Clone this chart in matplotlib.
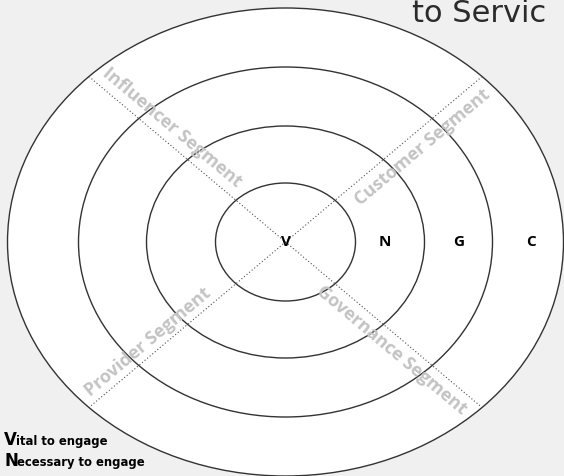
import numpy as np
import matplotlib.pyplot as plt
from matplotlib.patches import Ellipse

# rings, inner to outer
rings = ["V", "N", "G", "C"]
ring_w = [70, 139, 207, 278]      # half widths (px)
ring_h = [59, 116, 175, 234]      # half heights (px)
ring_label_x = [286, 385, 459, 531]

segments = ["Influencer Segment", "Customer Segment", "Provider Segment", "Governance Segment"]
seg_xy = [(172, 128), (423, 147), (148, 342), (392, 350)]
seg_rot = [-40, 40, 40, -40]

legend = [("V", "ital to engage"), ("N", "ecessary to engage")]

cx, cy = 285.5, 242

fig = plt.figure(figsize=(5.64, 4.76), dpi=100, facecolor="#f0f0f0")
ax = fig.add_axes([0, 0, 1, 1])
ax.set_xlim(0, 564)
ax.set_ylim(476, 0)
ax.set_facecolor("#f0f0f0")
ax.axis("off")

# ellipses, outer first so the fill is white
for i in range(len(rings) - 1, -1, -1):
    e = Ellipse((cx, cy), 2 * ring_w[i], 2 * ring_h[i], facecolor="white" if i == len(rings) - 1 else "none",
                edgecolor="#333333", lw=1.0, zorder=2)
    ax.add_patch(e)

# dotted diagonals between the outer ring at 45 deg
a, b = ring_w[-1], ring_h[-1]
for t in [np.pi / 4, 3 * np.pi / 4]:
    x0, y0 = cx + a * np.cos(t), cy - b * np.sin(t)
    x1, y1 = cx - a * np.cos(t), cy + b * np.sin(t)
    ax.plot([x0, x1], [y0, y1], color="#505050", lw=0.8, ls=(0, (1, 2)), zorder=3)

for name, (x, y), r in zip(segments, seg_xy, seg_rot):
    ax.text(x, y, name, rotation=r, rotation_mode="anchor", ha="center", va="center",
            fontsize=13, fontweight="bold", color="#c3c3c3", family="Open Sans", zorder=4)

for lab, x in zip(rings, ring_label_x):
    ax.text(x, cy, lab, ha="center", va="center", fontsize=11, fontweight="bold",
            color="black", family="Open Sans", zorder=5)

# title, cut off at the right edge like the original slide
ax.text(412, 22, "to Servic", ha="left", va="baseline", fontsize=22, color="#2b2b2b",
        family="DejaVu Sans")

# legend bottom left
for k, (big, rest) in enumerate(legend):
    y = 445 + k * 21
    ax.text(4, y, big, ha="left", va="baseline", fontsize=12, fontweight="bold", family="DejaVu Sans")
    ax.text(16 if big == "V" else 17, y, rest, ha="left", va="baseline", fontsize=9.3,
            fontweight="bold", family="DejaVu Sans", stretch="condensed")

fig.savefig("out.png", dpi=100, facecolor=fig.get_facecolor())
